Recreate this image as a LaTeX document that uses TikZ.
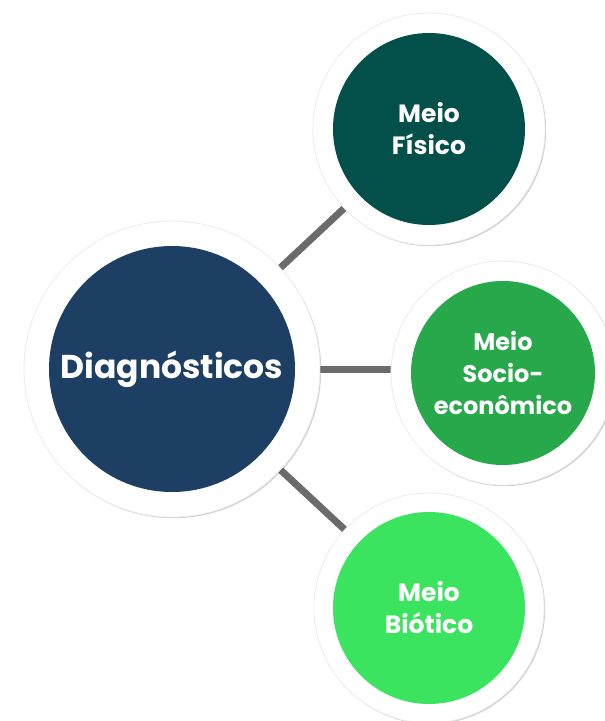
\documentclass[tikz,border=0pt]{standalone}
\usepackage{fontspec}
\setmainfont{Poppins}
\usetikzlibrary{shadows,backgrounds}
\definecolor{cDiag}{HTML}{1D3F63}
\definecolor{cFis}{HTML}{03504A}
\definecolor{cSoc}{HTML}{27A84A}
\definecolor{cBio}{HTML}{3BE45E}
\definecolor{cLine}{HTML}{6B6B6B}
\tikzset{
  ring/.style={circle, fill=white, draw=black!8, line width=0.8pt, inner sep=0pt,
    drop shadow={shadow xshift=1.2pt, shadow yshift=-1.2pt, opacity=0.18, fill=black}},
  disc/.style={circle, inner sep=0pt, text=white, align=center},
  link/.style={draw=cLine, line width=7pt}
}
\begin{document}
\begin{tikzpicture}[x=1pt,y=-1pt]
\useasboundingbox (0,0) rectangle (605,721);
% rings
\node[ring, minimum size=296pt] (rD) at (172,369) {};
\node[ring, minimum size=232pt] (rF) at (429,129) {};
\node[ring, minimum size=224pt] (rS) at (503,373) {};
\node[ring, minimum size=230pt] (rB) at (429,608) {};
% discs
\node[disc, fill=cDiag, minimum size=246pt, font=\bfseries\fontsize{33}{38}\selectfont] (D) at (172,369) {Diagnósticos};
\node[disc, fill=cFis, minimum size=192pt, font=\bfseries\fontsize{25}{32}\selectfont] (F) at (429,129) {Meio\\Físico};
\node[disc, fill=cSoc, minimum size=184pt, font=\bfseries\fontsize{24}{32}\selectfont] (S) at (503,373) {Meio\\Socio-\\econômico};
\node[disc, fill=cBio, minimum size=192pt, font=\bfseries\fontsize{25}{32}\selectfont] (B) at (429,608) {Meio\\Biótico};
% connectors
\begin{scope}[on background layer]
\draw[link] (D.center) -- (F.center);
\draw[link] (D.center) -- (D.center -| S.center);
\draw[link] (D.center) -- (B.center);
\end{scope}
\end{tikzpicture}
\end{document}
